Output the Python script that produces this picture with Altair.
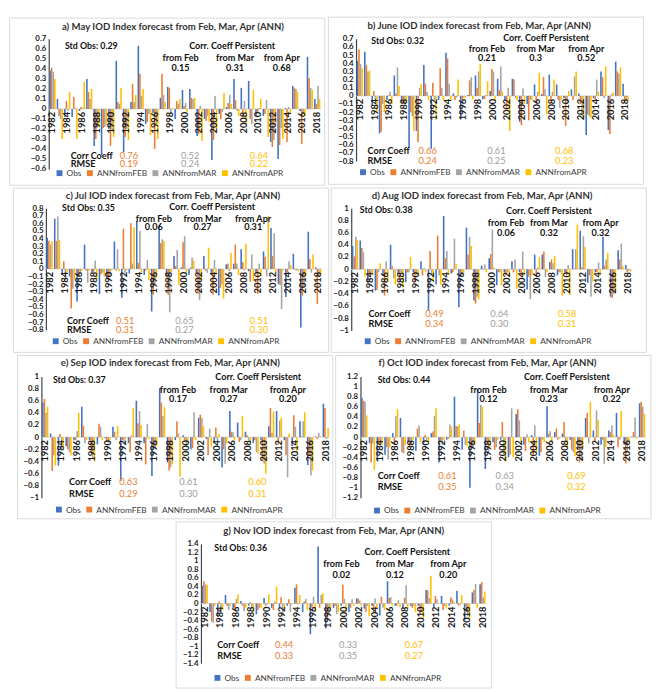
import altair as alt
import pandas as pd

YEARS = list(range(1982, 2019))
SERIES = ["Obs", "ANNfromFEB", "ANNfromMAR", "ANNfromAPR"]
COLORS = ["#4472C4", "#ED7D31", "#A5A5A5", "#FFC000"]

# ---------------- data ----------------
MAY_OBS = [0.38, 0.10, -0.08, -0.08, -0.02, 0.30, -0.37, -0.46, -0.20, 0.48,
           -0.43, 0.07, 0.63, -0.15, -0.04, 0.11, 0.22, -0.10, 0.19, 0.20,
           -0.27, -0.10, -0.51, -0.05, 0.02, 0.30, 0.21, 0.28, -0.07, -0.07,
           -0.33, -0.50, 0.01, 0.23, -0.02, 0.52, 0.10]
MAY_FEB = [0.41, -0.07, 0.08, 0.12, 0.02, 0.17, -0.30, -0.19, -0.37, 0.07,
           -0.28, 0.25, 0.35, -0.13, -0.40, 0.35, 0.21, 0.08, 0.03, 0.11,
           -0.25, -0.12, -0.31, -0.10, 0.06, 0.09, -0.08, -0.10, -0.03, -0.05,
           -0.38, -0.36, -0.33, 0.21, -0.35, 0.31, 0.05]
MAY_MAR = [0.37, -0.10, -0.02, 0.01, 0.01, 0.10, -0.19, -0.18, -0.22, 0.05,
           -0.20, 0.07, 0.13, -0.05, -0.15, 0.14, -0.05, 0.05, 0.06, 0.10,
           0.03, -0.07, 0.13, -0.03, 0.14, -0.02, 0.08, -0.15, 0.01, 0.09,
           -0.31, -0.19, 0.02, 0.20, -0.05, 0.21, 0.23]
MAY_APR = [0.30, -0.30, 0.17, -0.30, 0.27, 0.20, -0.18, -0.16, -0.28, 0.21,
           -0.31, 0.14, 0.20, -0.26, -0.30, 0.07, 0.01, 0.10, -0.03, 0.11,
           -0.32, -0.13, -0.20, 0.16, 0.05, -0.07, -0.15, 0.19, 0.10, -0.28,
           -0.15, -0.30, -0.05, 0.17, -0.07, 0.19, 0.10]

JUN_OBS = [0.43, 0.54, -0.12, -0.46, -0.05, 0.25, -0.08, -0.63, -0.43, 0.38,
           -0.65, -0.05, 0.53, 0.03, -0.28, 0.01, 0.25, -0.04, 0.06, 0.21,
           -0.05, 0.21, -0.32, -0.10, 0.14, 0.02, 0.26, 0.14, -0.03, 0.08,
           0.03, -0.48, -0.03, 0.30, -0.42, 0.42, 0.15]
JUN_FEB = [0.57, 0.38, 0.06, -0.44, 0.01, 0.03, -0.10, -0.20, -0.57, 0.15,
           0.16, 0.34, 0.46, -0.05, -0.05, 0.19, 0.10, -0.04, 0.33, 0.07,
           -0.15, 0.20, -0.36, -0.30, -0.08, 0.23, -0.05, -0.05, -0.37, -0.05,
           -0.10, -0.23, -0.05, 0.23, -0.47, 0.30, -0.08]
JUN_MAR = [0.39, 0.30, -0.05, -0.10, 0.05, 0.35, -0.10, -0.25, 0.10, 0.05,
           -0.05, 0.10, 0.15, -0.02, -0.02, 0.23, 0.30, 0.01, 0.30, 0.36,
           0.10, -0.03, 0.09, -0.05, 0.05, 0.08, 0.05, -0.15, -0.10, 0.24,
           -0.25, -0.25, 0.20, -0.03, 0.02, 0.27, -0.06]
JUN_APR = [0.34, 0.31, -0.20, -0.20, -0.10, 0.12, -0.08, -0.43, 0.15, -0.05,
           -0.29, -0.06, -0.06, 0.20, -0.02, -0.04, 0.39, 0.18, -0.05, 0.05,
           -0.43, -0.05, -0.10, -0.05, 0.28, -0.23, 0.20, -0.05, 0.06, 0.30,
           -0.27, -0.27, 0.05, 0.36, 0.04, 0.35, -0.07]

JUL_OBS = [0.41, 0.66, -0.08, -0.10, -0.43, 0.32, -0.05, -0.33, -0.12, 0.36,
           -0.38, -0.06, 0.63, -0.08, -0.56, 0.55, -0.10, 0.17, 0.02, -0.08,
           -0.05, 0.17, -0.06, -0.35, 0.06, 0.07, 0.26, -0.03, -0.05, 0.23,
           0.54, -0.20, -0.37, 0.20, -0.77, 0.49, 0.02]
JUL_FEB = [0.37, 0.37, 0.10, -0.52, -0.10, -0.02, -0.05, -0.07, -0.15, -0.02,
           0.53, 0.60, 0.08, -0.02, -0.34, 0.34, -0.34, 0.04, 0.35, 0.02,
           -0.33, -0.02, -0.34, -0.25, 0.07, 0.32, 0.09, -0.17, -0.33, 0.16,
           0.17, -0.21, -0.05, -0.01, -0.35, 0.13, -0.46]
JUL_MAR = [0.32, 0.69, -0.15, -0.26, -0.05, -0.18, 0.11, -0.05, -0.10, 0.26,
           -0.05, 0.07, 0.50, 0.12, -0.20, 0.39, -0.57, 0.25, 0.43, 0.15,
           -0.41, -0.05, 0.12, -0.20, -0.03, 0.07, -0.02, 0.19, 0.07, -0.10,
           0.47, -0.53, 0.10, -0.02, -0.25, -0.05, -0.10]
JUL_APR = [0.36, 0.38, -0.05, -0.14, -0.02, -0.02, -0.13, -0.10, -0.02, -0.03,
           -0.02, 0.55, -0.05, -0.15, -0.12, 0.37, -0.04, -0.21, -0.05, 0.11,
           -0.15, 0.28, -0.08, -0.39, 0.21, -0.08, 0.33, -0.16, -0.10, 0.70,
           -0.05, -0.02, 0.05, -0.03, -0.10, 0.19, -0.08]

AUG_OBS = [0.38, 0.47, -0.22, -0.35, -0.10, 0.40, -0.08, -0.21, -0.05, 0.13,
           -0.68, -0.25, 0.87, -0.07, -0.62, 0.68, -0.51, 0.06, 0.18, -0.26,
           -0.05, 0.13, -0.05, -0.33, 0.24, 0.24, 0.12, -0.10, -0.05, 0.33,
           0.63, -0.22, -0.05, 0.53, -0.45, 0.31, 0.07]
AUG_FEB = [0.21, 0.35, -0.10, -0.34, -0.43, 0.05, -0.20, -0.05, -0.20, -0.10,
           0.30, 0.55, 0.18, -0.05, -0.10, 0.24, -0.56, 0.01, 0.25, -0.05,
           -0.10, -0.05, -0.10, -0.12, -0.10, 0.29, 0.16, -0.05, -0.10, 0.01,
           0.03, -0.10, -0.05, 0.06, -0.47, 0.16, -0.05]
AUG_MAR = [0.53, 0.28, -0.05, -0.05, 0.13, -0.15, -0.05, -0.05, -0.10, 0.02,
           -0.10, -0.10, 0.30, 0.50, -0.10, 0.53, -0.45, 0.08, 0.65, -0.05,
           -0.05, 0.16, 0.29, -0.49, 0.03, -0.13, 0.10, -0.05, 0.07, 0.33,
           0.54, -0.45, 0.11, 0.16, -0.40, 0.42, -0.02]
AUG_APR = [0.48, -0.12, -0.10, 0.10, -0.20, -0.25, -0.30, 0.20, -0.10, -0.05,
           -0.20, -0.25, -0.10, 0.09, -0.05, 0.38, -0.49, -0.05, 0.03, -0.26,
           -0.10, -0.32, -0.10, -0.10, 0.20, -0.05, 0.22, -0.43, -0.42, 0.73,
           0.37, -0.20, -0.10, 0.27, -0.35, 0.05, -0.03]

SEP_OBS = [0.57, 0.06, -0.47, -0.15, -0.05, 0.50, -0.05, -0.12, -0.02, 0.17,
           -0.72, -0.10, 0.60, -0.10, -0.64, 0.81, -0.42, -0.05, 0.03, -0.20,
           0.32, -0.03, -0.10, -0.50, 0.43, 0.24, 0.09, -0.10, -0.05, 0.18,
           0.43, -0.05, -0.15, 0.26, -0.46, 0.01, 0.55]
SEP_FEB = [0.63, -0.56, 0.05, -0.20, -0.05, 0.19, -0.25, 0.22, -0.08, 0.09,
           -0.05, -0.25, 0.23, -0.45, -0.15, 0.57, -0.55, 0.26, -0.05, -0.18,
           0.37, -0.30, 0.16, -0.20, 0.09, -0.08, 0.03, -0.05, -0.40, 0.48,
           -0.12, -0.30, 0.36, 0.01, -0.30, -0.03, 0.48]
SEP_MAR = [0.40, -0.30, -0.20, -0.25, 0.10, -0.10, -0.35, 0.17, -0.10, -0.05,
           -0.10, 0.03, 0.43, 0.22, -0.20, 0.35, -0.50, 0.06, -0.15, 0.41,
           0.32, 0.14, -0.05, -0.44, 0.08, -0.05, -0.05, -0.25, -0.44, 0.07,
           0.27, -0.66, 0.17, 0.26, -0.63, 0.07, -0.03]
SEP_APR = [0.50, -0.47, -0.15, -0.30, 0.40, -0.05, -0.40, -0.05, -0.05, 0.18,
           -0.03, 0.48, 0.20, -0.03, -0.15, 0.49, -0.45, -0.65, -0.10, -0.05,
           0.18, -0.15, 0.05, -0.10, -0.05, 0.35, -0.10, -0.27, -0.60, 0.42,
           0.32, 0.06, -0.25, 0.41, -0.55, 0.01, 0.15]

OCT_OBS = [0.78, -0.12, -0.48, -0.35, 0.08, 0.38, -0.10, -0.27, -0.15, 0.08,
           -0.50, -0.05, 0.80, -0.25, -1.00, 0.95, -0.63, -0.10, -0.05, -0.40,
           0.46, -0.15, 0.04, -0.37, 0.61, 0.10, 0.07, -0.05, -0.20, 0.38,
           0.13, -0.15, 0.13, 0.48, -0.15, 0.01, 0.67]
OCT_FEB = [0.72, -0.50, -0.15, -0.20, -0.12, -0.30, -0.20, 0.17, 0.04, 0.11,
           -0.10, -0.03, 0.22, 0.13, -0.20, 0.28, -0.10, -0.25, 0.30, -0.35,
           0.55, -0.28, -0.35, -0.30, 0.07, 0.17, 0.30, -0.25, -0.50, 0.48,
           -0.10, -0.05, 0.10, -0.20, -0.52, 0.10, 0.70]
OCT_MAR = [0.70, -0.13, -0.10, -0.44, 0.42, -0.32, -0.15, 0.23, -0.05, 0.42,
           -0.15, 0.25, 0.21, -0.15, -0.20, 0.64, -0.30, -0.20, -0.35, 0.57,
           0.33, 0.05, 0.23, -0.05, 0.12, -0.05, -0.10, -0.30, -0.45, -0.12,
           0.53, -0.53, 0.23, -0.05, -0.30, 0.39, 0.60]
OCT_APR = [0.43, -0.65, -0.15, -0.20, 0.55, -0.15, -0.05, -0.10, -0.10, 0.57,
           -0.05, 0.21, 0.25, -0.18, -0.15, 0.60, -0.20, -0.05, -0.48, -0.40,
           -0.10, -0.10, -0.30, -0.10, -0.10, -0.03, -0.20, -0.38, -0.20, 0.70,
           0.34, -0.20, 0.05, 0.52, -0.10, -0.03, 0.46]

NOV_OBS = [0.42, -0.20, -0.30, 0.20, -0.10, 0.06, -0.05, -0.25, 0.13, -0.10,
           -0.10, -0.05, 0.37, -0.20, -0.72, 1.34, -0.58, -0.10, -0.05, -0.20,
           0.12, -0.12, -0.05, -0.28, 0.52, -0.05, -0.12, -0.05, -0.05, 0.32,
           -0.10, 0.18, -0.05, 0.30, -0.40, 0.26, 0.45]
NOV_FEB = [0.52, -0.42, 0.05, -0.05, -0.12, -0.05, 0.03, -0.15, -0.05, -0.15,
           0.15, 0.10, 0.45, 0.05, -0.10, -0.10, -0.35, -0.05, 0.44, -0.10,
           0.12, -0.20, -0.20, 0.16, 0.13, -0.05, 0.13, -0.10, -0.25, 0.31,
           0.18, -0.15, 0.14, -0.05, -0.20, 0.32, 0.50]
NOV_MAR = [0.45, -0.45, -0.20, -0.15, 0.11, -0.18, -0.10, -0.10, -0.02, 0.05,
           -0.30, -0.20, -0.02, 0.11, 0.16, 0.20, -0.25, -0.25, 0.11, 0.10,
           0.07, -0.05, 0.12, -0.10, 0.15, 0.08, 0.43, -0.05, -0.20, 0.13,
           0.10, -0.05, 0.10, -0.03, -0.30, 0.46, 0.14]
NOV_APR = [0.44, -0.05, -0.15, -0.05, 0.21, -0.10, -0.20, -0.10, 0.22, 0.40,
           -0.10, -0.02, 0.20, -0.15, -0.20, 0.24, -0.10, -0.20, -0.20, -0.05,
           -0.05, -0.30, -0.10, -0.15, -0.05, -0.08, -0.10, -0.20, -0.35, 0.65,
           0.01, -0.10, 0.05, 0.20, -0.35, -0.10, 0.28]

DATA = {
    "a": [MAY_OBS, MAY_FEB, MAY_MAR, MAY_APR],
    "b": [JUN_OBS, JUN_FEB, JUN_MAR, JUN_APR],
    "c": [JUL_OBS, JUL_FEB, JUL_MAR, JUL_APR],
    "d": [AUG_OBS, AUG_FEB, AUG_MAR, AUG_APR],
    "e": [SEP_OBS, SEP_FEB, SEP_MAR, SEP_APR],
    "f": [OCT_OBS, OCT_FEB, OCT_MAR, OCT_APR],
    "g": [NOV_OBS, NOV_FEB, NOV_MAR, NOV_APR],
}

TITLES = {
    "a": "a) May IOD Index forecast from Feb, Mar, Apr (ANN)",
    "b": "b) June IOD index forecast from Feb, Mar, Apr (ANN)",
    "c": "c) Jul IOD index forecast from Feb, Mar, Apr (ANN)",
    "d": "d) Aug IOD index forecast from Feb, Mar, Apr (ANN)",
    "e": "e) Sep IOD index forecast from Feb, Mar, Apr (ANN)",
    "f": "f) Oct IOD index forecast from Feb, Mar, Apr (ANN)",
    "g": "g) Nov IOD index forecast from Feb, Mar, Apr (ANN)",
}
STD_OBS = {"a": "0.29", "b": "0.32", "c": "0.35", "d": "0.38", "e": "0.37", "f": "0.44", "g": "0.36"}
PERSIST = {"a": ["0.15", "0.31", "0.68"], "b": ["0.21", "0.3", "0.52"], "c": ["0.06", "0.27", "0.31"],
           "d": ["0.06", "0.32", "0.32"], "e": ["0.17", "0.27", "0.20"], "f": ["0.12", "0.23", "0.22"],
           "g": ["0.02", "0.12", "0.20"]}
CORR = {"a": ["0.76", "0.52", "0.64"], "b": ["0.66", "0.61", "0.68"], "c": ["0.51", "0.65", "0.51"],
        "d": ["0.49", "0.64", "0.58"], "e": ["0.63", "0.61", "0.60"], "f": ["0.61", "0.63", "0.69"],
        "g": ["0.44", "0.33", "0.67"]}
RMSE = {"a": ["0.19", "0.24", "0.22"], "b": ["0.24", "0.25", "0.23"], "c": ["0.31", "0.27", "0.30"],
        "d": ["0.34", "0.30", "0.31"], "e": ["0.29", "0.30", "0.31"], "f": ["0.35", "0.34", "0.32"],
        "g": ["0.33", "0.35", "0.27"]}
FROM_LABELS = ["from Feb", "from Mar", "from Apr"]
TICKS = {
    "a": [0.7, 0.6, 0.5, 0.4, 0.3, 0.2, 0.1, 0, -0.1, -0.2, -0.3, -0.4, -0.5, -0.6],
    "b": [0.7, 0.6, 0.5, 0.4, 0.3, 0.2, 0.1, 0, -0.1, -0.2, -0.3, -0.4, -0.5, -0.6, -0.7, -0.8],
    "c": [0.8, 0.7, 0.6, 0.5, 0.4, 0.3, 0.2, 0.1, 0, -0.1, -0.2, -0.3, -0.4, -0.5, -0.6, -0.7, -0.8],
    "d": [1, 0.8, 0.6, 0.4, 0.2, 0, -0.2, -0.4, -0.6, -0.8, -1],
    "e": [1, 0.8, 0.6, 0.4, 0.2, 0, -0.2, -0.4, -0.6, -0.8, -1],
    "f": [1.2, 1, 0.8, 0.6, 0.4, 0.2, 0, -0.2, -0.4, -0.6, -0.8, -1, -1.2],
    "g": [1.4, 1.2, 1, 0.8, 0.6, 0.4, 0.2, 0, -0.2, -0.4, -0.6, -0.8, -1, -1.2, -1.4],
}

# ---------------- layout (reference pixels, cell-local) ----------------
S = 0.976
FONT = "Lato"
CELL_W = 330
CELL_H = {"a": 175, "b": 175, "c": 172, "d": 172, "e": 171, "f": 171, "g": 174}
LAYOUT = {
    "a": dict(plot=(41, 21.7, 326, 158), title=(171, 9), std=(58, 29), pers=(233, 29),
              fx=[179, 236, 285], fy=42, vy=52, cc=(64, 144, 153), vx=[125, 189, 261], leg=(51, 164)),
    "b": dict(plot=(29, 22.7, 315, 150.7), title=(158, 9), std=(45, 25), pers=(228, 22),
              fx=[166, 217, 270], fy=33, vy=43, cc=(41, 140, 151), vx=[104, 176, 247], leg=(35, 164)),
    "c": dict(plot=(34, 21, 323, 148.3), title=(167, 8), std=(51, 21), pers=(208, 20),
              fx=[147, 198, 251], fy=32, vy=41, cc=(56, 139, 149), vx=[117, 179, 257], leg=(43, 162)),
    "d": dict(plot=(21, 21, 315, 149), title=(158, 8), std=(30, 23), pers=(228, 24),
              fx=[183, 228, 282], fy=37, vy=47, cc=(39, 132, 142), vx=[108, 176, 247], leg=(37, 162)),
    "e": dict(plot=(25, 22, 327, 149), title=(160, 8), std=(37, 26), pers=(252, 23),
              fx=[168, 221, 283], fy=36, vy=46, cc=(54, 133, 145), vx=[116, 179, 251], leg=(42, 163)),
    "f": dict(plot=(26, 22, 325, 149), title=(159, 8), std=(44, 26), pers=(242, 23),
              fx=[160, 223, 289], fy=36, vy=46, cc=(44, 126, 138), vx=[117, 177, 252], leg=(42, 164)),
    "g": dict(plot=(26, 23, 325, 148), title=(165, 10), std=(40, 27), pers=(242, 32),
              fx=[173, 229, 285], fy=44, vy=56, cc=(43, 129, 141), vx=[113, 180, 249], leg=(42, 165)),
}
VAL_COLORS = ["#ED7D31", "#9E9E9E", "#FFC000"]


def make_panel(k):
    lay = LAYOUT[k]
    L, T, R, B = lay["plot"]
    W = (R - L) * S
    H = (B - T) * S

    def px(x):
        return (x - L) * S

    def py(y):
        return (y - T) * S

    rows = []
    for s, vals in zip(SERIES, DATA[k]):
        for yr, v in zip(YEARS, vals):
            rows.append({"year": yr, "series": s, "value": v})
    df = pd.DataFrame(rows)
    ticks = TICKS[k]

    X = alt.X("year:O", scale=alt.Scale(domain=YEARS, paddingInner=0.14, paddingOuter=0.08), axis=None)
    Y = alt.Y("value:Q", scale=alt.Scale(domain=[ticks[-1], ticks[0]], nice=False, zero=False),
              axis=alt.Axis(values=ticks, format="~g", title=None, grid=False, ticks=False,
                            domainColor="#404040", domainWidth=1.2, labelColor="#1a1a1a",
                            labelFont=FONT, labelFontSize=8, labelFontWeight="bold",
                            labelPadding=3, labelOverlap=False))

    frame = alt.Chart(pd.DataFrame({"k": [0]})).mark_rect(
        fillOpacity=0, stroke="#D9D9D9", strokeWidth=1).encode(
        x=alt.value(px(0)), x2=alt.value(px(CELL_W)), y=alt.value(py(0)), y2=alt.value(py(CELL_H[k])))

    zero = alt.Chart(pd.DataFrame({"value": [0.0]})).mark_rule(
        color="#D9D9D9", strokeWidth=1).encode(y=Y)

    lx, ly = lay["leg"]
    bars = alt.Chart(df).mark_bar().encode(
        x=X,
        xOffset=alt.XOffset("series:N", sort=SERIES, scale=alt.Scale(domain=SERIES)),
        y=Y,
        color=alt.Color("series:N", sort=SERIES, scale=alt.Scale(domain=SERIES, range=COLORS),
                        legend=alt.Legend(orient="none", legendX=px(lx) - 3, legendY=py(ly) - 6,
                                          direction="horizontal", columns=4, title=None,
                                          symbolType="square", symbolSize=36, symbolStrokeWidth=0,
                                          labelFont=FONT, labelFontSize=8.5, labelColor="#404040",
                                          columnPadding=4, labelOffset=3, padding=0)),
    )

    lab = pd.DataFrame({"year": YEARS, "value": [0.0] * len(YEARS),
                        "label": [str(y) if y % 2 == 0 else "" for y in YEARS]})
    years = alt.Chart(lab).mark_text(angle=270, align="right", baseline="middle", dx=-3,
                                     font=FONT, fontSize=9.5, fontWeight="bold", color="#1a1a1a").encode(
        x=X, y=Y, text="label:N")

    def ann(rows_, **kw):
        d = pd.DataFrame(rows_, columns=["t", "x", "y", "c", "fs"])
        return alt.Chart(d).mark_text(font=FONT, baseline="middle", **kw).encode(
            x=alt.X("x:Q", scale=None), y=alt.Y("y:Q", scale=None), text="t:N",
            color=alt.Color("c:N", scale=None), size=alt.Size("fs:Q", scale=None))

    sx, sy = lay["std"]
    ccx, ccy, rmy = lay["cc"]
    bold_left = [
        ["Std Obs: " + STD_OBS[k], px(sx), py(sy), "#111111", 9],
        ["Corr Coeff", px(ccx), py(ccy), "#111111", 9.3],
        ["RMSE", px(ccx), py(rmy), "#111111", 9.3],
    ]
    tx, ty = lay["title"]
    pcx, pcy = lay["pers"]
    bold_center = [
        [TITLES[k], px(tx), py(ty), "#333333", 9.8],
        ["Corr. Coeff Persistent", px(pcx), py(pcy), "#111111", 9.2],
    ]
    for lbl, fx, pv in zip(FROM_LABELS, lay["fx"], PERSIST[k]):
        bold_center.append([lbl, px(fx), py(lay["fy"]), "#111111", 9.3])
        bold_center.append([pv, px(fx), py(lay["vy"]), "#111111", 9.3])
    normal_center = []
    for vxx, cv, rv, col in zip(lay["vx"], CORR[k], RMSE[k], VAL_COLORS):
        normal_center.append([cv, px(vxx), py(ccy), col, 9.5])
        normal_center.append([rv, px(vxx), py(rmy), col, 9.5])

    layers = [frame, zero, bars, years,
              ann(bold_left, align="left", fontWeight="bold"),
              ann(bold_center, align="center", fontWeight="bold"),
              ann(normal_center, align="center")]
    return alt.layer(*layers).properties(width=W, height=H)


def row(*charts):
    return alt.hconcat(*charts, spacing=0).resolve_scale(color="independent").resolve_legend(color="independent")


chart = alt.vconcat(
    row(make_panel("a"), make_panel("b")),
    row(make_panel("c"), make_panel("d")),
    row(make_panel("e"), make_panel("f")),
    make_panel("g"),
    spacing=0, center=True,
).resolve_scale(color="independent").resolve_legend(color="independent").properties(
    padding=0, background="white"
).configure_view(stroke="transparent")

chart.save("out.html", embed_options={"renderer": "svg", "actions": False})
